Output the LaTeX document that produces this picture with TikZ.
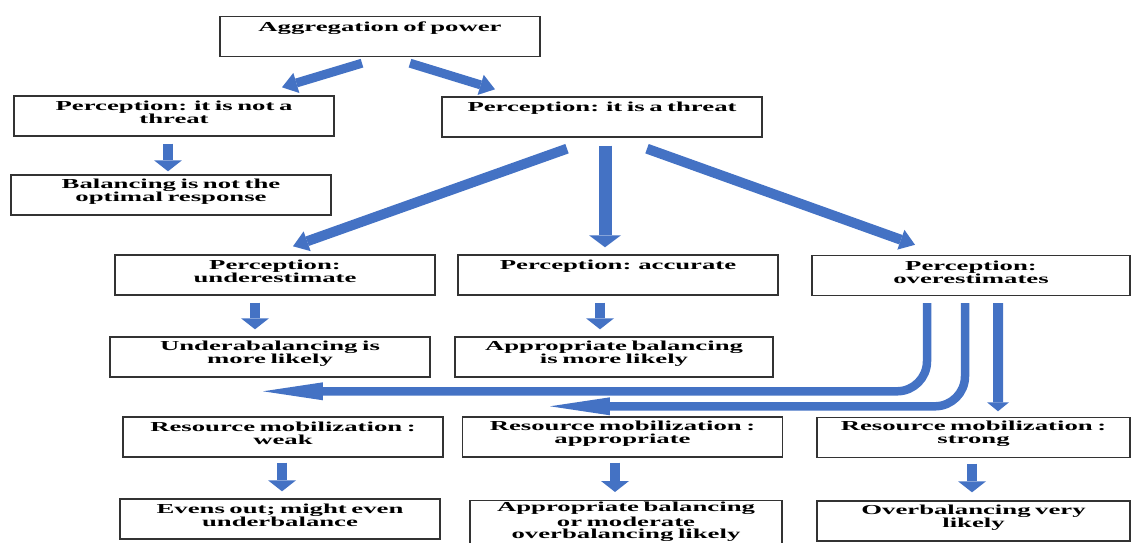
\documentclass[tikz,border=0pt]{standalone}
\usepackage{fontspec}
\setmainfont{Liberation Serif}[FakeStretch=1.95]
\usetikzlibrary{arrows.meta}
\definecolor{arrowblue}{RGB}{68,114,196}
\tikzset{
  box/.style={draw=black!80,line width=0.8pt,minimum height=0.8cm,text width=6cm,
    inner xsep=0.2cm,inner ysep=1pt,align=center,font=\fontsize{7.8}{7.5}\selectfont\bfseries,
    execute at end node={\par\vspace*{4pt}}},
  vdown/.style={arrowblue,line width=0.2cm,-{Triangle[width=0.56cm,length=0.22cm,line width=0pt]}},
  diag/.style={arrowblue,line width=0.18cm,-{Triangle[width=0.42cm,length=0.3cm,line width=0pt]}},
  hleft/.style={arrowblue,line width=0.17cm,rounded corners=0.6cm,-{Triangle[width=0.36cm,length=1.2cm,line width=0pt]}}
}
\begin{document}
\begin{tikzpicture}[x=0.02cm,y=-0.02cm]
\useasboundingbox (0,0) rectangle (1132,543);
%
\node[box] (agg) at (380,36.5) {Aggregation of power\\\mbox{}};
\node[box] (nothreat) at (174,116) {Perception: it is not a\\threat};
\node[box] (threat) at (602,117) {Perception: it is a threat\\\mbox{}};
\node[box] (notbal) at (171,195) {Balancing is not the\\optimal response};
\node[box] (under) at (275,275) {Perception:\\underestimate};
\node[box] (accur) at (618,275) {Perception: accurate\\\mbox{}};
\node[box,text width=5.96cm] (over) at (971,275.5) {Perception:\\overestimates};
\node[box] (underbal) at (270,357) {Underabalancing is\\more likely};
\node[box,text width=5.96cm] (apprbal) at (614,357) {Appropriate balancing\\is more likely};
\node[box] (weak) at (283,437) {Resource mobilization :\\weak};
\node[box] (apprres) at (622.5,437) {Resource mobilization :\\appropriate};
\node[box,text width=5.86cm] (strong) at (973.5,437.5) {Resource mobilization :\\strong};
\node[box] (evens) at (280,519) {Evens out; might even\\underbalance};
\node[box,text width=5.84cm,anchor=north,font=\fontsize{7.8}{7.1}\selectfont\bfseries] (moder) at (626,500)
  {Appropriate balancing\\or moderate\\overbalancing likely};
\node[box,text width=5.86cm] (overbal) at (973.5,521) {Overbalancing very\\likely};
%
\draw[diag] ([shift={(-18,6)}]agg.south)--([shift={(108,-8)}]nothreat.north);
\draw[diag] ([shift={(30,6)}]agg.south)--([shift={(-107,-7)}]threat.north);
\draw[vdown] ([shift={(-6,7)}]nothreat.south)--([shift={(-3,-3)}]notbal.north);
%
\draw[diag,line width=0.2cm] ([shift={(-35,11)}]threat.south)--([shift={(18,-8)}]under.north);
\draw[vdown,line width=0.26cm,-{Triangle[width=0.64cm,length=0.24cm,line width=0pt]}]
  ([shift={(3,8)}]threat.south)--([shift={(-13,-7)}]accur.north);
\draw[diag,line width=0.2cm] ([shift={(45,11)}]threat.south)--([shift={(-56,-10)}]over.north);
%
\draw[vdown] ([shift={(-20,7)}]under.south)--([shift={(-15,-7)}]underbal.north);
\draw[vdown] ([shift={(-18,7)}]accur.south)--([shift={(-14,-7)}]apprbal.north);
%
\draw[hleft] ([shift={(-44,7)}]over.south)|-([shift={(-20,-25)}]weak.north);
\draw[hleft] ([shift={(-6,7)}]over.south)|-([shift={(-72.5,-10)}]apprres.north);
\draw[vdown,-{Triangle[width=0.44cm,length=0.18cm,line width=0pt]}]
  ([shift={(27,7)}]over.south)--([shift={(24.5,-5.5)}]strong.north);
%
\draw[vdown] ([shift={(-1,5)}]weak.south)--([shift={(2,-7)}]evens.north);
\draw[vdown] ([shift={(-7.5,5)}]apprres.south)--([shift={(-11,-8)}]moder.north);
\draw[vdown] ([shift={(-1.5,5.5)}]strong.south)--([shift={(-1.5,-8)}]overbal.north);
\end{tikzpicture}
\end{document}
